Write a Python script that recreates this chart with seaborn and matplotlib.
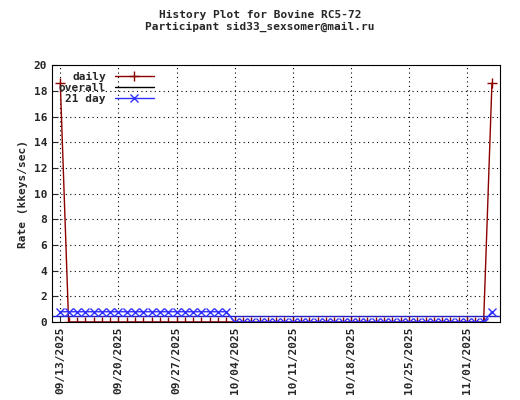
import pandas as pd
import numpy as np
import matplotlib
matplotlib.use("Agg")
import matplotlib.pyplot as plt
import matplotlib.dates as mdates
import seaborn as sns

# data
dates = pd.date_range("2025-09-13", "2025-11-04", freq="D")
daily = [18.6] + [0.0] * (len(dates) - 2) + [18.6]
n_high = len(pd.date_range("2025-09-13", "2025-10-03"))
day21 = [0.8] * n_high + [0.0] * (len(dates) - n_high - 1) + [0.8]
overall = 0.5

sns.set_style("white")
plt.rcParams["font.family"] = ["DejaVu Sans Mono"]

fig = plt.figure(figsize=(5.2, 4.0), dpi=100)
ax = fig.add_axes([0.1, 0.195, 0.862, 0.642])

ax.plot(dates, daily, color="#8b0000", lw=1, marker="+", markersize=7,
        mew=1, label="daily")
ax.plot([], [], color="black", lw=1, label="overall")
ax.axhline(overall, color="#2020c0", lw=1)
ax.plot(dates, day21, color="#3030ff", lw=1, marker="x", markersize=6,
        mew=1, label="21 day")
sns.despine(ax=ax, top=False, right=False)

ax.set_xlim(pd.Timestamp("2025-09-12"), pd.Timestamp("2025-11-05"))
ax.set_ylim(0, 20)
ax.set_yticks(range(0, 21, 2))
ticks = pd.date_range("2025-09-13", "2025-11-01", freq="7D")
ax.set_xticks(ticks)
ax.set_xticklabels([d.strftime("%m/%d/%Y") for d in ticks], rotation=90,
                   fontsize=8, fontweight="bold")
for t in ax.get_yticklabels():
    t.set_fontsize(8)
    t.set_fontweight("bold")
ax.grid(True, color="black", linestyle=(0, (1, 3)), lw=0.8)
ax.tick_params(direction="in", length=4, left=True, bottom=True)
for s in ax.spines.values():
    s.set_color("black")
ax.set_xlabel("")
ax.set_ylabel("Rate (kkeys/sec)", fontsize=8, fontweight="bold")
fig.suptitle("History Plot for Bovine RC5-72\nParticipant sid33_sexsomer@mail.ru",
             fontsize=8, fontweight="bold", y=0.975)
ax.legend(loc="upper left", frameon=False,
          prop={"weight": "bold", "size": 8}, markerfirst=False,
          handlelength=3.5, borderaxespad=0.2, labelspacing=0.1)
fig.savefig("out.png", dpi=100)
